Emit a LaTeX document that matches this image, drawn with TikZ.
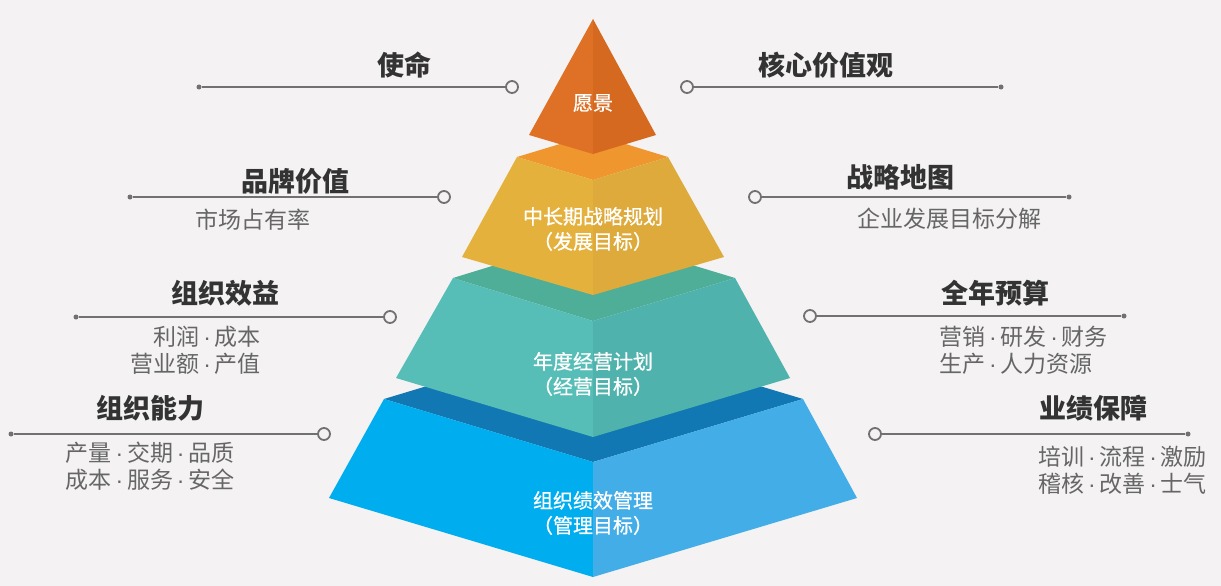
\documentclass[tikz,border=0pt]{standalone}
\usepackage{fontspec}
\newfontfamily\cjk{Noto Sans CJK SC}
\newfontfamily\cjkmed[FakeBold=0.8]{Noto Sans CJK SC}
\newfontfamily\dotfont{Liberation Sans}
\newcommand\mdot{\,{\dotfont ·}\,}
\definecolor{bg}{HTML}{F4F2F3}
\definecolor{headc}{HTML}{333333}
\definecolor{subc}{HTML}{666666}
\definecolor{linec}{HTML}{717171}
\definecolor{triL}{HTML}{DE7126}
\definecolor{triR}{HTML}{D4691F}
\definecolor{yelT}{HTML}{F0962F}
\definecolor{yelL}{HTML}{E5B13D}
\definecolor{yelR}{HTML}{DDAA3B}
\definecolor{teaT}{HTML}{4FAE98}
\definecolor{teaL}{HTML}{56BEB6}
\definecolor{teaR}{HTML}{4FB2AC}
\definecolor{bluT}{HTML}{1178B3}
\definecolor{bluL}{HTML}{00ADEE}
\definecolor{bluR}{HTML}{43ADE7}
\begin{document}
\begin{tikzpicture}[x=1pt,y=-1pt,
  head/.style={font=\cjk\bfseries\fontsize{27}{30}\selectfont, text=headc, inner sep=0pt},
  sub/.style={font=\cjk\fontsize{23}{27}\selectfont, text=subc, inner sep=0pt},
  ptext/.style={font=\cjkmed\fontsize{20}{25}\selectfont, text=white, align=center, inner sep=0pt},
  ring/.style={circle, draw=linec, line width=1.8pt, fill=bg, minimum size=12pt, inner sep=0pt},
  enddot/.style={circle, fill=linec, minimum size=5pt, inner sep=0pt},
  conn/.style={draw=linec, line width=1.8pt}]
\useasboundingbox (0,0) rectangle (1221,586);
\fill[bg] (0,0) rectangle (1221,586);

% ---- blue tier
\fill[bluT] (384,399) -- (593,336) -- (803,399) -- (593,462) -- cycle;
\fill[bluL] (384,399) -- (593,462) -- (593,577) -- (329,498) -- cycle;
\fill[bluR] (803,399) -- (593,462) -- (593,577) -- (857,498) -- cycle;
% ---- teal tier
\fill[teaT] (453,278) -- (593,235) -- (735,278) -- (593,321) -- cycle;
\fill[teaL] (453,278) -- (593,321) -- (593,437) -- (396,378) -- cycle;
\fill[teaR] (735,278) -- (593,321) -- (593,437) -- (790,378) -- cycle;
% ---- yellow tier
\fill[yelT] (517,157) -- (593,134) -- (668,157) -- (593,180) -- cycle;
\fill[yelL] (517,157) -- (593,180) -- (593,295) -- (462,257) -- cycle;
\fill[yelR] (668,157) -- (593,180) -- (593,295) -- (724,257) -- cycle;
% ---- top triangle
\fill[triL] (593,19) -- (529,135) -- (593,154) -- cycle;
\fill[triR] (593,19) -- (656,135) -- (593,154) -- cycle;

% ---- pyramid texts
\node[ptext] (p1) at (593,103) {愿景};
\node[ptext] (p2) at (593,229) {中长期战略规划\\（发展目标）};
\node[ptext] (p3) at (593,374) {年度经营计划\\（经营目标）};
\node[ptext] (p4) at (593,513) {组织绩效管理\\（管理目标）};

% ---- left side
\node[head] (h1) at (404,65) {使命};
\node[enddot] (d1) at (199,87) {};
\node[ring] (r1) at (512,87) {};
\draw[conn] (d1) -- (r1);

\node[head] (h2) at (295,181) {品牌价值};
\node[enddot] (d2) at (130,197) {};
\node[ring] (r2) at (444,197) {};
\draw[conn] (d2) -- (r2);
\node[sub] (s2) at (253,220) {市场占有率};

\node[head] (h3) at (225,293) {组织效益};
\node[enddot] (d3) at (76,317) {};
\node[ring] (r3) at (390,317) {};
\draw[conn] (d3) -- (r3);
\node[sub, align=right, anchor=east] (s3) at (261,350) {利润\mdot 成本\\营业额\mdot 产值};

\node[head] (h4) at (150,408) {组织能力};
\node[enddot] (d4) at (11,434) {};
\node[ring] (r4) at (324,434) {};
\draw[conn] (d4) -- (r4);
\node[sub, align=center] (s4) at (150,466) {产量\mdot 交期\mdot 品质\\成本\mdot 服务\mdot 安全};

% ---- right side
\node[head] (h5) at (826,65) {核心价值观};
\node[ring] (r5) at (687,87) {};
\node[enddot] (d5) at (1001,87) {};
\draw[conn] (r5) -- (d5);

\node[head] (h6) at (900,177) {战略地图};
\node[ring] (r6) at (755,197) {};
\node[enddot] (d6) at (1069,197) {};
\draw[conn] (r6) -- (d6);
\node[sub] (s6) at (949,219) {企业发展目标分解};

\node[head] (h7) at (995,293) {全年预算};
\node[ring] (r7) at (810,316) {};
\node[enddot] (d7) at (1124,316) {};
\draw[conn] (r7) -- (d7);
\node[sub, align=left, anchor=west] (s7) at (939,350) {营销\mdot 研发\mdot 财务\\生产\mdot 人力资源};

\node[head] (h8) at (1093,408) {业绩保障};
\node[ring] (r8) at (875,434) {};
\node[enddot] (d8) at (1188,434) {};
\draw[conn] (r8) -- (d8);
\node[sub, align=left, anchor=west] (s8) at (1038,470) {培训\mdot 流程\mdot 激励\\稽核\mdot 改善\mdot 士气};
\end{tikzpicture}
\end{document}
